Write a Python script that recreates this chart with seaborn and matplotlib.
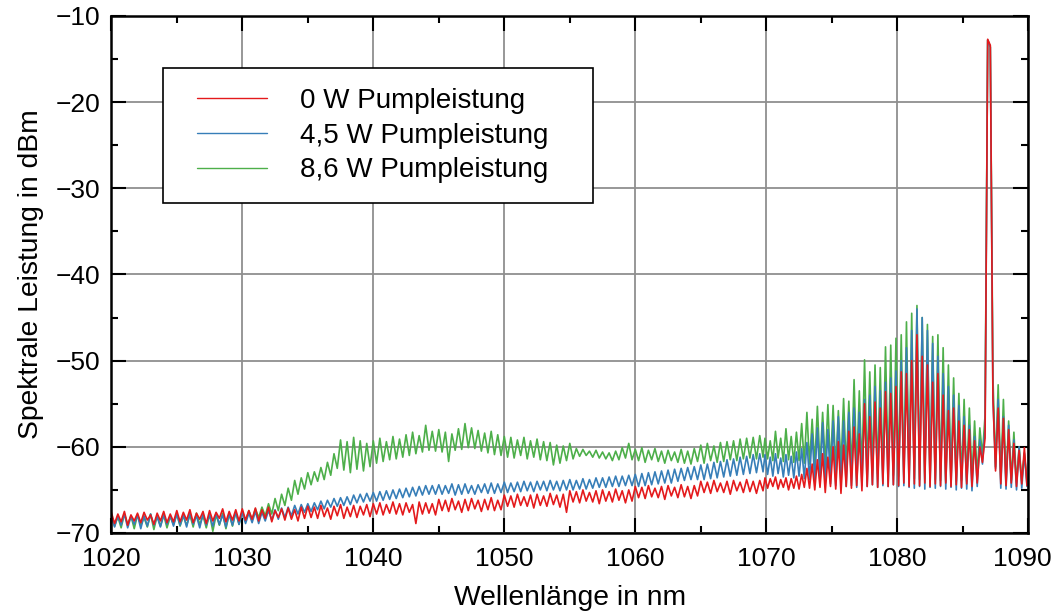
import numpy as np
import pandas as pd
import matplotlib
matplotlib.use("Agg")
import matplotlib.pyplot as plt
from matplotlib.lines import Line2D
from matplotlib.legend_handler import HandlerLine2D
from matplotlib.ticker import MultipleLocator
from matplotlib.transforms import ScaledTranslation
import seaborn as sns

# Sampling grid of the spectra (nm)
wl_a = 1020.0 + 0.25 * np.arange(200)      # 1020.00 ... 1069.75
wl_b = 1069.9 + 0.2 * np.arange(101)       # 1069.9 ... 1089.9
wavelength = np.concatenate([wl_a, wl_b])

labels = ["0 W Pumpleistung", "4,5 W Pumpleistung", "8,6 W Pumpleistung"]

# ---- 0 W (red) ----
red_a = [
    -67.6, -68.9, -67.8, -68.7, -67.5, -69.1, -67.9, -68.6, -67.7, -68.8, -67.6, -68.5, -67.9, -69.0, -67.7, -68.6, -67.5, -68.8, -67.8, -68.7,
    -67.4, -68.7, -67.6, -68.5, -67.3, -68.8, -67.7, -68.4, -67.5, -68.9, -67.4, -68.6, -67.6, -68.3, -67.2, -68.7, -67.5, -68.5, -67.3, -68.6,
    -67.2, -68.5, -67.4, -68.4, -67.1, -68.6, -67.3, -68.3, -67.0, -68.7, -67.4, -68.2, -67.2, -68.5, -67.1, -68.4, -67.3, -68.6, -67.0, -68.3,
    -66.9, -68.2, -67.0, -68.3, -66.8, -68.1, -67.1, -68.4, -66.9, -68.0, -66.7, -68.3, -67.0, -68.1, -66.8, -68.2, -66.9, -67.9, -66.7, -68.1,
    -66.6, -67.8, -66.5, -67.9, -66.7, -67.7, -66.4, -67.8, -66.6, -67.9, -66.5, -67.6, -66.7, -68.9, -66.4, -67.8, -66.5, -67.7, -66.6, -67.9,
    -66.1, -67.4, -66.2, -67.5, -66.0, -67.3, -66.3, -67.6, -66.1, -67.4, -66.0, -67.2, -66.2, -67.5, -66.1, -67.3, -65.9, -67.4, -66.2, -67.3,
    -65.6, -66.9, -65.7, -67.0, -65.5, -66.8, -65.8, -66.9, -65.6, -67.1, -65.5, -66.8, -65.7, -66.9, -65.4, -66.7, -65.6, -67.0, -65.5, -67.6,
    -65.1, -66.4, -65.2, -66.5, -65.0, -66.3, -65.3, -66.4, -65.1, -66.6, -65.0, -66.3, -65.2, -66.4, -64.9, -66.2, -65.1, -66.5, -65.0, -66.3,
    -64.6, -65.9, -64.7, -66.0, -64.5, -65.8, -64.8, -65.9, -64.6, -66.1, -64.5, -65.7, -64.7, -65.9, -64.4, -65.8, -64.6, -66.0, -64.5, -65.7,
    -64.0, -65.3, -64.1, -65.4, -63.9, -65.2, -64.2, -65.3, -64.0, -65.5, -63.9, -65.1, -64.1, -65.3, -63.8, -65.2, -64.0, -65.4, -63.9, -65.1,
]
red_b = [
    -63.6, -64.8, -63.7, -64.6, -63.5, -64.9, -63.8, -64.7, -63.6, -65.0,
    -63.7, -64.8, -63.4, -64.9, -63.2, -64.7, -62.5, -64.8, -62.0, -65.0,
    -61.5, -64.7, -60.8, -65.3, -61.2, -64.6, -60.0, -64.9, -59.4, -65.4,
    -59.8, -64.6, -58.2, -64.8, -57.7, -64.5, -58.5, -65.1, -55.0, -64.6,
    -56.5, -64.4, -54.8, -64.7, -55.5, -64.3, -53.6, -64.6, -53.8, -64.4,
    -53.0, -64.5, -51.3, -64.2, -51.5, -64.6, -50.0, -64.3, -47.0, -64.5,
    -49.5, -64.2, -50.5, -64.6, -52.5, -64.3, -51.5, -64.5, -54.0, -64.2,
    -55.8, -64.6, -55.5, -64.4, -57.0, -64.7, -57.5, -64.3, -58.0, -64.6,
    -59.3, -64.2, -60.0, -61.8, -59.0, -12.7, -13.4, -54.4, -62.8, -55.5,
    -64.3, -56.7, -64.5, -58.0, -64.2, -59.6, -64.6, -60.4, -64.3, -60.1,
    -64.5,
]

# ---- 4,5 W (blue) ----
blue_a = [
    -67.9, -69.3, -68.0, -69.1, -67.8, -69.4, -68.1, -69.0, -67.9, -69.5, -68.0, -69.2, -67.8, -69.1, -68.1, -69.3, -67.9, -69.0, -68.0, -69.2,
    -67.8, -69.1, -67.9, -69.3, -67.7, -69.0, -68.0, -69.4, -67.8, -69.1, -67.9, -69.2, -67.7, -69.0, -67.9, -69.3, -67.8, -69.1, -67.6, -69.0,
    -67.6, -68.9, -67.7, -68.8, -67.5, -68.9, -67.6, -68.6, -67.4, -68.5, -67.3, -68.4, -67.1, -68.2, -67.0, -68.0, -66.8, -67.8, -66.7, -67.6,
    -66.6, -67.5, -66.5, -67.3, -66.3, -67.2, -66.2, -67.0, -66.0, -66.9, -65.9, -66.8, -65.8, -66.7, -65.6, -66.5, -65.5, -66.4, -65.4, -66.3,
    -65.3, -66.3, -65.2, -66.2, -65.1, -66.1, -65.0, -66.0, -64.9, -65.9, -64.8, -65.8, -64.7, -65.7, -64.6, -65.6, -64.5, -65.5, -64.5, -65.5,
    -64.4, -65.5, -64.5, -65.4, -64.3, -65.6, -64.4, -65.5, -64.3, -65.4, -64.5, -65.5, -64.4, -65.3, -64.3, -65.4, -64.2, -65.4, -64.3, -65.3,
    -64.1, -65.3, -64.2, -65.2, -64.1, -65.2, -64.0, -65.1, -64.1, -65.2, -64.0, -65.0, -64.0, -65.1, -63.9, -65.0, -64.0, -65.1, -63.9, -65.0,
    -63.8, -65.0, -63.9, -64.9, -63.7, -64.9, -63.8, -64.8, -63.6, -64.7, -63.6, -64.7, -63.5, -64.6, -63.4, -64.6, -63.4, -64.5, -63.3, -64.5,
    -63.2, -64.6, -63.1, -64.5, -63.0, -64.4, -62.9, -64.3, -62.8, -64.2, -62.7, -64.2, -62.6, -64.0, -62.5, -63.9, -62.4, -63.8, -62.3, -63.8,
    -62.1, -63.8, -62.0, -63.7, -61.8, -63.6, -61.7, -63.5, -61.5, -63.4, -61.4, -63.3, -61.2, -63.2, -61.1, -63.1, -60.9, -63.0, -60.8, -62.9,
]
blue_b = [
    -60.9, -63.2, -61.2, -63.4, -60.8, -63.1, -61.3, -63.5, -60.9, -63.3,
    -61.1, -63.6, -60.6, -63.4, -60.2, -63.7, -59.5, -63.8, -58.5, -64.0,
    -57.8, -64.1, -57.2, -64.2, -58.0, -64.3, -57.0, -64.5, -56.5, -64.4,
    -57.0, -64.6, -56.0, -64.5, -55.5, -64.7, -56.0, -64.5, -54.5, -64.6,
    -54.0, -64.4, -53.0, -64.7, -53.5, -64.5, -52.5, -64.6, -52.0, -64.4,
    -51.2, -64.6, -50.0, -64.5, -48.5, -64.7, -46.5, -64.8, -44.0, -64.6,
    -45.0, -64.9, -46.5, -64.7, -48.0, -64.8, -49.5, -64.6, -51.5, -64.9,
    -53.0, -64.7, -54.0, -65.0, -55.2, -64.8, -56.5, -64.9, -57.5, -65.1,
    -58.8, -64.6, -59.2, -62.0, -57.7, -12.8, -13.6, -54.2, -62.5, -54.5,
    -64.8, -56.5, -64.9, -57.5, -64.7, -59.2, -65.0, -60.0, -64.8, -60.7,
    -64.6,
]

# ---- 8,6 W (green) ----
green_a = [
    -67.9, -69.2, -68.1, -69.4, -67.8, -69.0, -68.0, -69.5, -67.9, -69.1, -68.2, -69.3, -67.8, -69.6, -68.0, -69.2, -67.9, -69.4, -68.1, -69.0,
    -67.8, -69.2, -68.0, -69.1, -67.9, -69.3, -67.7, -69.0, -68.0, -69.4, -67.8, -69.8, -67.9, -69.1, -67.7, -69.5, -67.8, -69.2, -67.6, -69.0,
    -67.5, -68.6, -67.4, -68.5, -67.2, -68.2, -67.0, -68.0, -66.6, -67.8, -66.0, -67.4, -65.5, -66.8, -64.8, -66.2, -63.9, -65.5, -63.6, -64.9,
    -63.0, -64.4, -62.9, -64.0, -62.4, -63.8, -61.8, -63.3, -60.8, -62.5, -59.2, -62.7, -59.4, -63.0, -58.9, -62.6, -59.3, -62.8, -59.6, -62.3,
    -59.3, -61.9, -59.0, -61.7, -59.4, -61.5, -58.8, -61.4, -59.1, -61.2, -58.6, -61.0, -58.3, -60.8, -58.7, -60.6, -57.5, -60.4, -58.2, -60.5,
    -58.0, -60.6, -58.3, -61.7, -58.5, -60.4, -57.9, -60.3, -57.3, -60.1, -57.8, -60.2, -58.1, -60.5, -58.4, -60.7, -58.2, -60.9, -58.6, -61.0,
    -58.8, -61.2, -58.9, -61.3, -59.2, -61.0, -58.9, -61.4, -59.3, -61.2, -59.1, -61.5, -59.4, -61.6, -59.5, -62.1, -59.8, -61.9, -59.9, -61.6,
    -59.6, -61.4, -60.2, -61.1, -60.3, -61.0, -60.5, -61.2, -60.4, -61.3, -60.6, -61.4, -60.7, -61.6, -60.5, -61.5, -60.1, -61.3, -59.6, -61.5,
    -60.3, -61.6, -60.1, -61.8, -60.4, -61.5, -60.2, -61.7, -60.5, -61.9, -60.4, -61.6, -60.6, -61.8, -60.3, -61.9, -60.5, -62.0, -60.2, -61.7,
    -59.8, -61.9, -59.6, -61.6, -59.9, -61.8, -59.5, -61.7, -59.4, -61.5, -59.3, -61.6, -59.1, -61.4, -59.0, -61.3, -58.9, -61.4, -58.7, -61.2,
]
green_b = [
    -59.0, -61.4, -59.3, -61.6, -58.2, -61.3, -59.0, -61.7, -57.9, -61.5,
    -58.8, -61.8, -58.3, -61.6, -57.3, -61.9, -56.0, -62.0, -56.8, -62.2,
    -55.3, -62.3, -56.0, -62.1, -55.1, -62.4, -55.2, -62.5, -55.8, -62.3,
    -54.4, -62.6, -54.7, -62.8, -52.2, -62.7, -53.5, -62.9, -49.9, -63.0,
    -51.3, -62.8, -50.5, -63.1, -50.8, -63.2, -48.4, -63.0, -48.2, -63.3,
    -47.4, -63.4, -47.0, -63.5, -45.5, -63.6, -44.5, -63.7, -43.6, -63.8,
    -45.0, -63.7, -45.8, -63.9, -47.2, -63.8, -47.0, -63.9, -48.5, -64.0,
    -50.5, -63.8, -52.0, -64.0, -53.8, -63.9, -54.5, -64.0, -55.5, -63.8,
    -57.0, -63.5, -57.8, -61.0, -56.3, -12.8, -13.6, -51.9, -62.3, -52.8,
    -63.8, -54.5, -64.0, -57.0, -63.9, -58.3, -64.1, -60.0, -63.9, -60.8,
    -64.0,
]

x_ticks = [1020, 1030, 1040, 1050, 1060, 1070, 1080, 1090]
y_ticks = [-70, -60, -50, -40, -30, -20, -10]

red = red_a + red_b
blue = blue_a + blue_b
green = green_a + green_b
for s in (red, blue, green):
    assert len(s) == len(wavelength), len(s)

n = len(wavelength)
df = pd.DataFrame({
    "Wellenlänge": np.tile(wavelength, 3),
    "Leistung": np.concatenate([green, blue, red]),
    "Serie": np.repeat([labels[2], labels[1], labels[0]], n),
})

colors = {labels[0]: "#e41a1c", labels[1]: "#377eb8", labels[2]: "#4daf4a"}

sns.set_theme(style="ticks")
plt.rcParams["font.family"] = ["Liberation Sans", "DejaVu Sans"]
plt.rcParams["axes.unicode_minus"] = True
plt.rcParams["text.color"] = "black"
plt.rcParams["axes.labelcolor"] = "black"
plt.rcParams["xtick.color"] = "black"
plt.rcParams["ytick.color"] = "black"
plt.rcParams["xtick.labelcolor"] = "black"
plt.rcParams["ytick.labelcolor"] = "black"

fig = plt.figure(figsize=(10.53, 6.15), dpi=100)
ax = fig.add_axes([111.3 / 1053, (615 - 533) / 615, 917 / 1053, 517 / 615])

sns.lineplot(data=df, x="Wellenlänge", y="Leistung", hue="Serie",
             hue_order=[labels[2], labels[1], labels[0]], palette=colors,
             estimator=None, sort=False, linewidth=1.2, legend=False, ax=ax)

ax.set_xlim(1020, 1090)
ax.set_ylim(-70, -10)
ax.set_xticks(x_ticks)
ax.set_yticks(y_ticks)
ax.xaxis.set_minor_locator(MultipleLocator(5))
ax.yaxis.set_minor_locator(MultipleLocator(5))
ax.grid(True, which="major", color="#8f8f8f", linewidth=1.3)
ax.set_axisbelow(True)
ax.tick_params(which="both", direction="in", top=True, right=True,
               width=1.5, color="black", labelcolor="black", labelsize=19)
ax.tick_params(which="major", length=11)
ax.tick_params(axis="x", which="major", pad=10)
ax.tick_params(axis="y", which="major", pad=8)
ax.tick_params(which="minor", length=5)
for sp in ax.spines.values():
    sp.set_linewidth(1.8)
    sp.set_color("black")
    sp.set_visible(True)

ax.set_xlabel("Wellenlänge in nm", fontsize=20.3, labelpad=10, color="black")
ax.set_ylabel("Spektrale Leistung in dBm", fontsize=20.3, labelpad=8.5, color="black")

# keep the last x tick label inside the figure
last = ax.xaxis.get_major_ticks()[-1].label1
last.set_transform(last.get_transform() + ScaledTranslation(-6 / 100, 0, fig.dpi_scale_trans))

handles = [Line2D([], [], color=colors[l], linewidth=1.0) for l in labels]
leg = ax.legend(handles, labels, loc="upper left",
                bbox_to_anchor=(0.056, 0.640, 0.469, 0.259), mode="expand",
                borderaxespad=0, fontsize=20, frameon=True, fancybox=False,
                handlelength=3.02, handletextpad=1.19, labelspacing=0.31,
                borderpad=0.72, edgecolor="black", labelcolor="black",
                handler_map={Line2D: HandlerLine2D(xpad=0.50)})
leg.get_frame().set_linewidth(1.2)
leg.get_frame().set_alpha(1)

fig.savefig("out.png", dpi=100)
